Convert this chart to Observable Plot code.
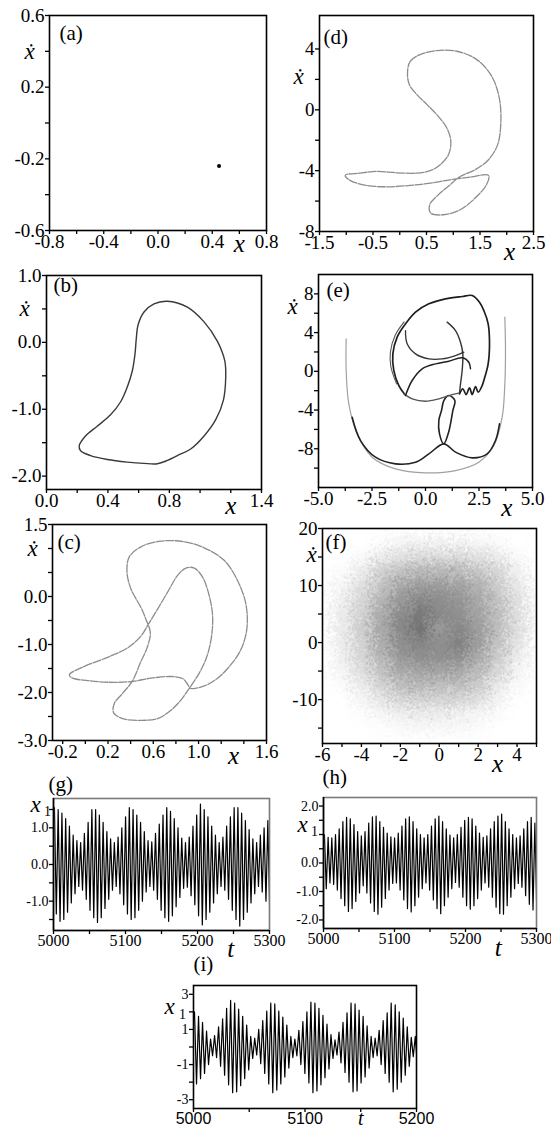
<!DOCTYPE html>
<html><head><meta charset="utf-8">
<script src="https://cdn.jsdelivr.net/npm/d3@7"></script>
<script src="https://cdn.jsdelivr.net/npm/@observablehq/plot@0.6"></script>
<style>
html,body{margin:0;padding:0;background:#fff;}
#fig{position:relative;width:551px;height:1132px;overflow:hidden;background:#fff;}
#fig svg{position:absolute;}
#fig svg text{font-family:'Liberation Serif','Times New Roman',serif;}
#fig svg.sansx g[aria-label="x-axis tick label"] text{font-family:'Liberation Sans',Arial,sans-serif;}
</style></head><body><div id="fig"></div>
<script>
// ---------- (a) fixed point ----------
const aX = [0.45];
const aY = [-0.24];
// ---------- (b) period-1 orbit ----------
const bX = [0.787,0.917,1.026,1.113,1.161,1.167,1.152,1.102,1.026,0.939,0.852,0.787,0.722,0.635,0.526,0.396,0.287,0.222,0.213,0.254,0.330,0.417,0.483,0.526,0.559,0.576,0.585,0.596,0.635,0.70];
const bY = [0.615,0.527,0.307,0.015,-0.278,-0.522,-0.863,-1.156,-1.40,-1.595,-1.693,-1.766,-1.815,-1.81,-1.79,-1.751,-1.693,-1.62,-1.546,-1.40,-1.254,-1.083,-0.888,-0.668,-0.424,-0.18,0.063,0.259,0.454,0.576];
// ---------- (c) period-2 orbit ----------
const cX = [-0.141,-0.009,0.197,0.374,0.491,0.556,0.638,0.726,0.815,0.888,0.962,1.035,1.094,1.124,1.115,1.074,1.006,0.918,0.844,0.756,0.638,0.491,0.329,0.25,0.256,0.329,0.418,0.485,0.55,0.574,0.535,0.491,0.403,0.368,0.388,0.491,0.668,0.874,1.05,1.226,1.344,1.418,1.426,1.374,1.285,1.168,1.05,0.932,0.897,0.859,0.756,0.579,0.403,0.197,0.021,-0.112];
const cY = [-1.632,-1.456,-1.267,-1.070,-0.825,-0.579,-0.263,0.088,0.439,0.593,0.593,0.404,0.018,-0.404,-0.825,-1.246,-1.596,-1.912,-2.158,-2.368,-2.544,-2.579,-2.544,-2.425,-2.228,-2.018,-1.751,-1.386,-1.035,-0.754,-0.474,-0.228,0.158,0.509,0.825,1.035,1.154,1.140,1.014,0.754,0.333,-0.158,-0.684,-1.105,-1.421,-1.702,-1.863,-1.912,-1.807,-1.709,-1.667,-1.702,-1.772,-1.786,-1.751,-1.702];
// ---------- (d) orbit ----------
const dX = [0.145,0.195,0.38,0.69,1.07,1.44,1.72,1.86,1.89,1.83,1.66,1.41,1.13,0.94,0.69,0.56,0.58,0.82,1.13,1.41,1.62,1.66,1.32,0.94,0.57,0.195,-0.24,-0.62,-0.93,-1.02,-0.74,-0.43,-0.055,0.32,0.57,0.755,0.91,0.955,0.88,0.72,0.51,0.32,0.18];
const dY = [2.42,3.19,3.63,3.89,3.85,3.30,2.20,0.78,-0.76,-2.29,-3.28,-3.94,-4.38,-4.93,-5.69,-6.24,-6.79,-6.90,-6.57,-5.80,-4.93,-4.31,-4.42,-4.60,-4.82,-4.97,-5.06,-4.97,-4.64,-4.31,-4.16,-4.05,-4.14,-4.16,-4.00,-3.61,-2.95,-2.07,-1.20,-0.43,0.34,1.00,1.65];
// ---------- (e) strange-attractor strands ----------
const eOuterX = [-3.707,-3.707,-3.583,-3.193,-2.492,-1.402,0.0,1.402,2.492,3.193,3.583,3.707,3.738,3.707];
const eOuterY = [3.35,0.08,-3.36,-6.46,-8.87,-10.08,-10.49,-10.25,-9.39,-7.67,-4.74,-1.29,2.15,5.59];
const eLowerX = [-3.427,-3.037,-2.336,-1.402,-0.467,0.156,0.857,1.402,2.181,2.882,3.271,3.458];
const eLowerY = [-4.74,-7.15,-8.87,-9.56,-9.39,-8.53,-7.49,-8.35,-8.94,-8.53,-7.15,-5.43];
const eColumnX = [0.857,0.654,0.623,0.748,0.857,1.090,1.371,1.277,1.168,1.059];
const eColumnY = [-7.49,-6.46,-5.08,-4.05,-3.02,-2.50,-3.02,-4.05,-5.43,-6.46];
const eUpperX = [-0.966,-1.246,-1.480,-1.526,-1.324,-0.935,-0.467,0.156,0.935,1.713,2.181,2.523,2.726,2.928,2.991,2.928,2.726,2.648,2.461,2.337,2.181,2.056,1.900,1.744,1.589];
const eUpperY = [-2.40,-1.47,0.08,1.80,3.53,4.90,6.11,6.97,7.49,7.73,7.83,7.14,6.28,4.90,2.84,0.77,-0.95,-1.47,-2.16,-1.57,-2.40,-1.71,-2.40,-1.81,-2.33];
const eUpper2X = [-1.35,-1.62,-1.64,-1.42,-1.0];
const eUpper2Y = [-1.3,0.5,2.0,3.7,5.1];
const eBaseX = [-1.012,-0.623,0.0,0.623,1.090,1.558];
const eBaseY = [-2.33,-2.84,-3.09,-2.84,-2.50,-2.26];
const eArcX = [-0.935,-0.857,-0.467,0.156,0.779,1.402,1.791];
const eArcY = [4.21,2.84,1.80,1.29,1.29,1.63,1.98];
const eRightX = [1.012,1.402,1.636,1.744,1.713,1.636,1.589];
const eRightY = [5.08,4.21,3.01,1.80,0.08,-1.29,-2.26];
const eDiagX = [-0.935,-0.623,-0.156,0.467,1.090,1.713,2.025,2.103];
const eDiagY = [-2.50,-0.95,0.26,0.77,1.05,1.39,0.94,0.26];
// ---------- (f) chaotic cloud: point density read on a grid ----------
const fXs = [-6,-5,-4,-3,-2,-1,0,1,2,3,4,5];
const fYs = [20,17.5,15,12.5,10,7.5,5,2.5,0,-2.5,-5,-7.5,-10,-12.5,-15,-17.5];
const fDensity = [
  [0,0,0,0,0,0,0,0,0,0,0,0],
  [0,0,0,0.02,0.05,0.07,0.07,0.07,0.05,0.02,0,0],
  [0,0,0.03,0.1,0.15,0.18,0.18,0.18,0.15,0.1,0.03,0],
  [0,0.02,0.1,0.22,0.3,0.35,0.35,0.33,0.28,0.2,0.08,0],
  [0,0.05,0.15,0.3,0.42,0.48,0.48,0.45,0.38,0.25,0.12,0.01],
  [0,0.08,0.2,0.36,0.5,0.58,0.56,0.52,0.42,0.3,0.15,0.03],
  [0,0.1,0.22,0.4,0.56,0.65,0.58,0.55,0.45,0.32,0.16,0.03],
  [0,0.1,0.24,0.42,0.58,0.68,0.5,0.58,0.48,0.32,0.16,0.03],
  [0,0.1,0.22,0.4,0.55,0.6,0.55,0.62,0.48,0.3,0.14,0.02],
  [0,0.08,0.2,0.36,0.5,0.55,0.55,0.55,0.42,0.26,0.1,0.01],
  [0,0.05,0.16,0.3,0.42,0.45,0.45,0.42,0.34,0.2,0.06,0],
  [0,0.02,0.1,0.22,0.32,0.35,0.32,0.32,0.25,0.12,0.03,0],
  [0,0,0.05,0.12,0.2,0.22,0.2,0.2,0.15,0.06,0,0],
  [0,0,0.01,0.05,0.08,0.1,0.1,0.08,0.05,0.02,0,0],
  [0,0,0,0.01,0.03,0.04,0.04,0.03,0.02,0,0,0],
  [0,0,0,0,0,0,0,0,0,0,0,0]
];
// ---------- (g),(h),(i) time series: successive maxima / minima ----------
const gStart = 5000, gPeriod = 5.2;
const gMax = [1.55,1.5,1.4,1.25,1.05,0.8,0.65,0.6,0.85,1.15, 1.5,1.5,1.35,1.15,0.9,0.7,0.6,0.75,1.0,1.3, 1.55,1.5,1.35,1.15,0.9,0.65,0.62,0.85,1.1,1.35, 1.55,1.45,1.25,1.0,0.72,0.6,0.75,1.05,1.35,1.65, 1.5,1.3,1.05,0.8,0.6,0.75,1.05,1.3,1.55,1.55, 1.4,1.2,0.95,0.7,0.6,0.8,1.0,1.2];
const gMin = [-1.35,-1.55,-1.5,-1.3,-1.05,-0.8,-0.6,-0.7,-0.95,-1.25, -1.45,-1.58,-1.45,-1.2,-0.95,-0.7,-0.6,-0.8,-1.1,-1.35, -1.5,-1.45,-1.25,-1.0,-0.75,-0.6,-0.7,-0.95,-1.25,-1.45, -1.55,-1.4,-1.15,-0.9,-0.65,-0.62,-0.85,-1.1,-1.4,-1.65, -1.5,-1.3,-1.05,-0.8,-0.6,-0.7,-0.95,-1.25,-1.5,-1.68, -1.5,-1.3,-1.05,-0.8,-0.6,-0.75,-1.0,-1.3];
const hStart = 5000, hPeriod = 5.2;
const hMax = [1.0,0.9,0.88,1.0,1.2,1.45,1.6,1.55,1.35,1.1, 0.95,1.1,1.4,1.62,1.65,1.45,1.25,1.05,0.92,0.88, 1.05,1.3,1.55,1.62,1.45,1.2,1.0,0.88,1.0,1.3, 1.55,1.65,1.45,1.2,0.98,0.88,1.0,1.25,1.5,1.6, 1.55,1.3,1.05,0.9,0.95,1.2,1.45,1.65,1.72,1.45, 1.2,1.0,0.88,0.95,1.2,1.45,1.6,1.4];
const hMin = [-0.9,-0.7,-0.75,-0.95,-1.25,-1.5,-1.7,-1.6,-1.35,-1.05, -0.8,-1.05,-1.4,-1.7,-1.8,-1.55,-1.25,-0.95,-0.72,-0.7, -0.95,-1.3,-1.6,-1.72,-1.5,-1.2,-0.9,-0.7,-0.95,-1.3, -1.6,-1.78,-1.5,-1.2,-0.9,-0.68,-0.85,-1.2,-1.5,-1.62, -1.5,-1.25,-0.95,-0.7,-0.85,-1.2,-1.55,-1.78,-1.8,-1.5, -1.2,-0.9,-0.72,-0.85,-1.15,-1.45,-1.65,-1.55];
const iStart = 5000, iPeriod = 3.6;
const iMax = [2.0,1.75,1.4,0.9,0.45,0.65,1.15,1.6,2.2,2.65, 2.5,2.15,1.75,1.25,0.6,0.5,1.0,1.5,2.05,2.5, 2.45,2.05,1.7,1.25,0.6,0.45,0.95,1.45,2.0,2.55, 2.5,2.2,1.8,1.3,0.7,0.4,0.85,1.4,1.95,2.5, 2.45,2.1,1.75,1.2,0.6,0.5,0.95,1.5,1.95,2.5, 2.4,2.0,1.65,1.15,0.55,0.6];
const iMin = [-2.1,-1.8,-1.5,-1.0,-0.5,-0.6,-1.1,-1.6,-2.15,-2.6, -2.55,-2.2,-1.8,-1.3,-0.65,-0.45,-0.95,-1.5,-2.1,-2.6, -2.45,-2.1,-1.7,-1.2,-0.6,-0.5,-1.0,-1.5,-2.05,-2.6, -2.5,-2.15,-1.75,-1.25,-0.65,-0.45,-0.9,-1.45,-2.0,-2.55, -2.5,-2.05,-1.7,-1.2,-0.6,-0.5,-1.0,-1.5,-2.0,-2.55, -2.4,-2.0,-1.6,-1.1,-0.55,-0.9];

// ---------- ticks ----------
const aXTicks = [-0.8,-0.6,-0.4,-0.2,0,0.2,0.4,0.6,0.8], aXLabels = [-0.8,-0.4,0,0.4,0.8];
const aYTicks = [-0.6,-0.4,-0.2,0,0.2,0.4,0.6], aYLabels = [-0.6,-0.2,0.2,0.6];
const bXTicks = [0,0.2,0.4,0.6,0.8,1.0,1.2,1.4], bXLabels = [0,0.4,0.8,1.4];
const bYTicks = [-2,-1.5,-1,-0.5,0,0.5,1], bYLabels = [-2,-1,0,1];
const cXTicks = [-0.2,0,0.2,0.4,0.6,0.8,1.0,1.2,1.4,1.6], cXLabels = [-0.2,0.2,0.6,1.0,1.6];
const cYTicks = [-3,-2.5,-2,-1.5,-1,-0.5,0,0.5,1,1.5], cYLabels = [-3,-2,-1,0,1.5];
const dXTicks = [-1.5,-1,-0.5,0,0.5,1,1.5,2,2.5], dXLabels = [-1.5,-0.5,0.5,1.5,2.5];
const dYTicks = [-8,-6,-4,-2,0,2,4], dYLabels = [-8,-4,0,4];
const eXTicks = [-5,-3.75,-2.5,-1.25,0,1.25,2.5,3.75,5], eXLabels = [-5,-2.5,0,2.5,5];
const eYTicks = [-10,-8,-6,-4,-2,0,2,4,6,8], eYLabels = [-8,-4,0,4,8];
const fXTicks = [-6,-5,-4,-3,-2,-1,0,1,2,3,4,5], fXLabels = [-6,-4,-2,0,2,4];
const fYTicks = [-15,-10,-5,0,5,10,15,20], fYLabels = [-10,0,10,20];
const gXTicks = [5000,5050,5100,5150,5200,5250,5300], gXLabels = [5000,5100,5200,5300];
const gYTicks = [-1.5,-1,-0.5,0,0.5,1,1.5], gYLabels = [-1,0,1];
const hXTicks = [5000,5050,5100,5150,5200,5250,5300], hXLabels = [5000,5100,5200,5300];
const hYTicks = [-2,-1.5,-1,-0.5,0,0.5,1,1.5,2], hYLabels = [-2,-1,0,2];
const iXTicks = [5000,5050,5100,5150,5200], iXLabels = [5000,5100,5200];
const iYTicks = [-3,-2,-1,0,1,2,3], iYLabels = [-3,-1,1,3];

// ---------- helpers ----------
const fig = document.getElementById("fig");
const pts = (xs, ys) => xs.map((x, i) => ({x, y: ys[i]}));
const fixed = n => d => d.toFixed(n);
const has = (arr, d) => arr.some(v => Math.abs(v - d) < 1e-9);
function extrema(t0, period, maxs, mins) {
  const out = [];
  maxs.forEach((v, i) => {
    out.push({x: t0 + (i + 0.25) * period, y: v});
    out.push({x: t0 + (i + 0.75) * period, y: mins[i]});
  });
  return out;
}

function panel(p, marks, extra = {}) {
  const [bx, by, W, H] = p.box;
  const [fx0, fy0, fx1, fy1] = p.frame;
  const lab = [];
  lab.push(Plot.text([p.tag], {frameAnchor: "top-left", dx: p.tagDx, dy: p.tagDy,
    textAnchor: "start", lineAnchor: "top", fontSize: 21}));
  lab.push(Plot.text([p.yName], {y: [p.yNameAt], frameAnchor: "left", dx: p.yNameDx,
    textAnchor: "middle", fontStyle: "italic", fontSize: 23}));
  if (p.ySub) lab.push(Plot.text([p.ySub], {y: [p.ySubAt], frameAnchor: "left", dx: p.ySubDx,
    textAnchor: "middle", fontSize: 14}));
  lab.push(Plot.text([p.xName], {x: [p.xNameAt], frameAnchor: "bottom", dy: p.xNameDy,
    textAnchor: "middle", lineAnchor: "middle", fontStyle: "italic", fontSize: p.xNameSize || 25}));
  const frameMarks = p.grayFrame
    ? [Plot.frame({stroke: "#7a7a7a", strokeWidth: 1.6}),
       Plot.ruleX([p.xDomain[0]], {stroke: "black", strokeWidth: 1.6}),
       Plot.ruleY([p.yDomain[0]], {stroke: "black", strokeWidth: 1.6})]
    : [Plot.frame({stroke: "black", strokeWidth: 1.6})];
  const chart = Plot.plot({
    width: W, height: H,
    marginLeft: fx0 - bx, marginTop: fy0 - by,
    marginRight: bx + W - fx1, marginBottom: by + H - fy1,
    x: {domain: p.xDomain}, y: {domain: p.yDomain},
    style: {fontSize: p.xFont + "px", background: "transparent", overflow: "visible", color: "black"},
    marks: [
      ...marks,
      ...frameMarks,
      Plot.axisX(p.xTicks, {anchor: "bottom", tickSize: 4, tickPadding: 0, label: null, strokeWidth: 1.3,
        tickFormat: d => has(p.xLabels, d) ? p.xFmt(d) : "", fontSize: p.xFont}),
      Plot.axisY(p.yTicks, {anchor: "left", tickSize: 4, tickPadding: 1, label: null, strokeWidth: 1.3,
        tickFormat: d => has(p.yLabels, d) ? p.yFmt(d) : "", fontSize: p.yFont}),
      ...lab
    ],
    ...extra
  });
  chart.style.left = bx + "px";
  chart.style.top = by + "px";
  if (p.sansX) chart.classList.add("sansx");
  fig.append(chart);
}

// ---------- (a) ----------
panel({box: [0, 0, 275, 262], frame: [49, 15, 266, 230], xDomain: [-0.8, 0.8], yDomain: [-0.6, 0.6],
  xTicks: aXTicks, xLabels: aXLabels, yTicks: aYTicks, yLabels: aYLabels, xFmt: fixed(1), yFmt: fixed(1),
  xFont: 19, yFont: 19, tag: "(a)", tagDx: 10, tagDy: 10, yName: "ẋ", yNameAt: 0.4, yNameDx: -20,
  xName: "x", xNameAt: 0.6, xNameDy: 13},
  [Plot.dot(pts(aX, aY), {x: "x", y: "y", r: 2, fill: "black"})]);

// ---------- (d) ----------
panel({box: [275, 0, 276, 262], frame: [319, 15, 533, 231], xDomain: [-1.5, 2.5], yDomain: [-8, 6.2],
  xTicks: dXTicks, xLabels: dXLabels, yTicks: dYTicks, yLabels: dYLabels, xFmt: fixed(1), yFmt: fixed(0),
  xFont: 19, yFont: 19, tag: "(d)", tagDx: 4, tagDy: 14, yName: "ẋ", yNameAt: 2.2, yNameDx: -21,
  xName: "x", xNameAt: 2.05, xNameDy: 20},
  [Plot.line(pts(dX, dY), {x: "x", y: "y", curve: "catmull-rom-closed", stroke: "#8c8c8c", strokeWidth: 1.3, strokeDasharray: "8,1.5", clip: true})]);

// ---------- (b) ----------
panel({box: [0, 262, 275, 248], frame: [46, 275, 261, 489], xDomain: [0, 1.4], yDomain: [-2.2, 1.0],
  xTicks: bXTicks, xLabels: bXLabels, yTicks: bYTicks, yLabels: bYLabels, xFmt: fixed(1), yFmt: fixed(1),
  xFont: 19, yFont: 19, tag: "(b)", tagDx: 7, tagDy: 2, yName: "ẋ", yNameAt: 0.5, yNameDx: -22,
  xName: "x", xNameAt: 1.2, xNameDy: 16},
  [Plot.line(pts(bX, bY), {x: "x", y: "y", curve: "catmull-rom-closed", stroke: "#3a3a3a", strokeWidth: 1.4, clip: true})]);

// ---------- (e) ----------
const eLine = (xs, ys, stroke, w, closed) => Plot.line(pts(xs, ys), {x: "x", y: "y",
  curve: closed ? "catmull-rom-closed" : "catmull-rom", stroke, strokeWidth: w, clip: true});
panel({box: [275, 262, 276, 248], frame: [318, 274, 532, 487], xDomain: [-5, 5], yDomain: [-12, 10],
  xTicks: eXTicks, xLabels: eXLabels, yTicks: eYTicks, yLabels: eYLabels, xFmt: fixed(1), yFmt: fixed(0),
  xFont: 19, yFont: 19, tag: "(e)", tagDx: 8, tagDy: 8, yName: "ẋ", yNameAt: 6.7, yNameDx: -26,
  xName: "x", xNameAt: 3.8, xNameDy: 20},
  [
    eLine(eOuterX, eOuterY, "#a0a0a0", 1.2, false),
    eLine(eLowerX, eLowerY, "#222", 1.6, false),
    eLine(eColumnX, eColumnY, "#222", 1.6, true),
    eLine(eUpperX, eUpperY, "#1e1e1e", 1.7, false),
    eLine(eUpper2X, eUpper2Y, "#555", 1.1, false),
    eLine(eBaseX, eBaseY, "#555", 1.3, false),
    eLine(eArcX, eArcY, "#333", 1.3, false),
    eLine(eRightX, eRightY, "#333", 1.4, false),
    eLine(eDiagX, eDiagY, "#222", 1.5, false)
  ]);

// ---------- (c) ----------
panel({box: [0, 510, 275, 262], frame: [52, 524, 266, 740], xDomain: [-0.29, 1.6], yDomain: [-3, 1.5],
  xTicks: cXTicks, xLabels: cXLabels, yTicks: cYTicks, yLabels: cYLabels, xFmt: fixed(1), yFmt: fixed(1),
  xFont: 19, yFont: 19, tag: "(c)", tagDx: 5, tagDy: 10, yName: "ẋ", yNameAt: 1.0, yNameDx: -20,
  xName: "x", xNameAt: 1.31, xNameDy: 15},
  [Plot.line(pts(cX, cY), {x: "x", y: "y", curve: "catmull-rom-closed", stroke: "#8c8c8c", strokeWidth: 1.3, strokeDasharray: "8,1.5", clip: true})]);

// ---------- (f) ----------
const fSamples = [];
fYs.forEach((y, r) => fXs.forEach((x, c) => fSamples.push({x, y, v: fDensity[r][c]})));
panel({box: [275, 510, 276, 262], frame: [322, 528, 536, 743], xDomain: [-6, 5], yDomain: [-17.7, 20],
  xTicks: fXTicks, xLabels: fXLabels, yTicks: fYTicks, yLabels: fYLabels, xFmt: fixed(0), yFmt: fixed(0),
  xFont: 19, yFont: 19, tag: "(f)", tagDx: 3, tagDy: 6, yName: "ẋ", yNameAt: 15.5, yNameDx: -11,
  xName: "x", xNameAt: 3.0, xNameDy: 20},
  [Plot.raster(fSamples, {x: "x", y: "y", fill: "v", interpolate: "random-walk",
    x1: -6, x2: 5, y1: -17.7, y2: 20, pixelSize: 1})],
  {color: {type: "linear", domain: [0, 1], range: ["#ffffff", "#333333"]}});

// ---------- (g) ----------
panel({box: [0, 772, 275, 180], frame: [53, 798, 269, 930], xDomain: [5000, 5300], yDomain: [-1.8, 1.8],
  xTicks: gXTicks, xLabels: gXLabels, yTicks: gYTicks, yLabels: gYLabels, xFmt: fixed(0), yFmt: fixed(1),
  xFont: 16, yFont: 14, tag: "(g)", tagDx: -5, tagDy: -22, yName: "x", yNameAt: 1.64, yNameDx: -18,
  ySub: "1", ySubAt: 1.45, ySubDx: -6, grayFrame: true,
  xName: "t", xNameAt: 5246, xNameDy: 18},
  [Plot.line(extrema(gStart, gPeriod, gMax, gMin), {x: "x", y: "y", stroke: "black", strokeWidth: 1.2, clip: true})]);

// ---------- (h) ----------
panel({box: [275, 772, 276, 180], frame: [323, 797, 536, 928], xDomain: [5000, 5300], yDomain: [-2.3, 2.3],
  xTicks: hXTicks, xLabels: hXLabels, yTicks: hYTicks, yLabels: hYLabels, xFmt: fixed(0), yFmt: fixed(1),
  xFont: 16, yFont: 14, tag: "(h)", tagDx: -1, tagDy: -28, yName: "x", yNameAt: 1.33, yNameDx: -21,
  ySub: "1", ySubAt: 1.12, ySubDx: -9, grayFrame: true,
  xName: "t", xNameAt: 5246, xNameDy: 19},
  [Plot.line(extrema(hStart, hPeriod, hMax, hMin), {x: "x", y: "y", stroke: "black", strokeWidth: 1.2, clip: true})]);

// ---------- (i) ----------
panel({box: [140, 952, 300, 180], frame: [193, 985, 416, 1108], xDomain: [5000, 5200], yDomain: [-3.5, 3.5],
  xTicks: iXTicks, xLabels: iXLabels, yTicks: iYTicks, yLabels: iYLabels, xFmt: fixed(0), yFmt: fixed(0),
  xFont: 16, yFont: 14, sansX: true, tag: "(i)", tagDx: 0, tagDy: -29, yName: "x", yNameAt: 2.3, yNameDx: -24,
  ySub: "1", ySubAt: 1.85, ySubDx: -11,
  xName: "t", xNameAt: 5150, xNameDy: 10, xNameSize: 20},
  [Plot.line(extrema(iStart, iPeriod, iMax, iMin), {x: "x", y: "y", stroke: "black", strokeWidth: 1.2, clip: true})]);
</script></body></html>
